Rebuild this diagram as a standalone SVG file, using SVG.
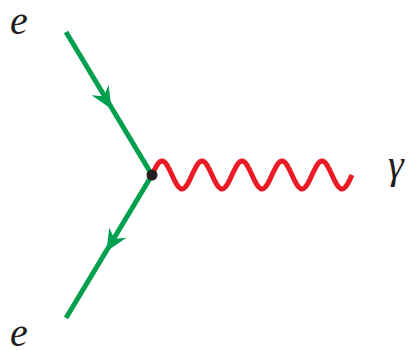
<svg xmlns="http://www.w3.org/2000/svg" width="413" height="350" viewBox="0 0 413 350">
<style>
.fermion{stroke:#00A04F;stroke-width:5;fill:none;stroke-linecap:butt}
.arrow{fill:#00A04F;stroke:none}
.photon{stroke:#ED1C24;stroke-width:5;fill:none;stroke-linecap:butt}
.lbl{font-family:"Liberation Serif",serif;font-style:italic;font-size:40px;fill:#231F20}
</style>
<g id="connectors">
<line class="fermion" x1="66" y1="32" x2="152" y2="175"/>
<line class="fermion" x1="152" y1="175" x2="66" y2="318"/>
<path class="arrow" d="M111.5,109 L91.55,95.37 L103.73,96.18 L108.65,85.01 Z"/>
<path class="arrow" d="M106.5,251.5 L109.26,227.5 L114.23,238.65 L126.4,237.8 Z"/>
<path class="photon" d="M152,175 c3.26,-7.175 6.38,-14 10,-14 s6.74,6.825 10,14 s6.38,14 10,14 s6.74,-6.825 10,-14 s6.38,-14 10,-14 s6.74,6.825 10,14 s6.38,14 10,14 s6.74,-6.825 10,-14 s6.38,-14 10,-14 s6.74,6.825 10,14 s6.38,14 10,14 s6.74,-6.825 10,-14 s6.38,-14 10,-14 s6.74,6.825 10,14 s6.38,14 10,14 s6.74,-6.825 10,-14 s6.38,-14 10,-14 s6.74,6.825 10,14 s6.38,14 10,14 s6.74,-6.825 10,-14"/>
</g>
<g id="vertex"><circle cx="152" cy="175" r="5.5" fill="#231F20"/></g>
<g id="label-e-top"><text class="lbl" x="10" y="34">e</text></g>
<g id="label-e-bottom"><text class="lbl" x="10" y="346">e</text></g>
<g id="label-gamma"><text class="lbl" x="388" y="178">γ</text></g>
</svg>
